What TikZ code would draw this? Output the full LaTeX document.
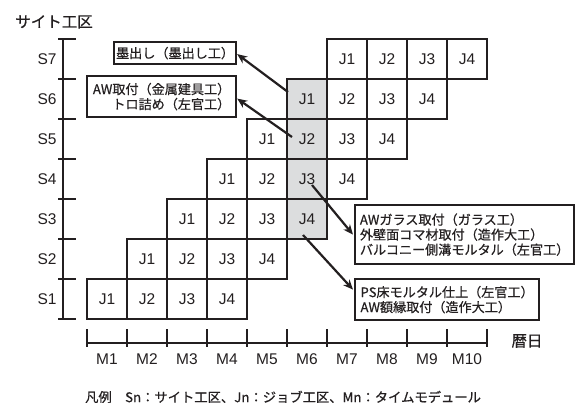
\documentclass[tikz,border=0pt]{standalone}
\usepackage{fontspec}
\setmainfont{Liberation Sans}
\newfontfamily\jp[FakeBold=0.6]{Noto Sans CJK JP}
\usetikzlibrary{arrows.meta}
\definecolor{ink}{HTML}{231F20}
\definecolor{shade}{HTML}{DCDDDE}
\begin{document}
\begin{tikzpicture}[x=1pt,y=-1pt,
  cell/.style={draw=ink,line width=2pt,minimum width=40pt,minimum height=40pt,inner sep=0pt,
    font=\fontsize{15.5}{18}\selectfont,text=ink},
  shaded/.style={cell,fill=shade},
  lab/.style={font=\fontsize{15.5}{18}\selectfont,text=ink,inner sep=0pt},
  jlab/.style={font=\jp\fontsize{15.5}{18}\selectfont,text=ink,inner sep=0pt},
  box/.style={draw=ink,line width=2.2pt,text=ink,inner sep=0pt,
    font=\jp\fontsize{13.1}{15}\selectfont},
  axis/.style={draw=ink,line width=2pt},
  arr/.style={draw=ink,line width=2.2pt,-{Stealth[length=10pt,width=8.5pt]}},
]
\useasboundingbox (0,0) rectangle (580,403);
% title
\node[jlab,anchor=center] (ytitle) at (54,22) {サイト工区};
% vertical axis
\coordinate (ytop) at (63,39);
\coordinate (ybot) at (63,319);
\draw[axis] (ytop) -- (ybot);
\foreach \i in {0,...,7}{
  \draw[axis] (58,{319-40*\i}) -- (76,{319-40*\i});
}
\foreach \s in {1,...,7}{
  \node[lab] (S\s) at (47,{299-40*(\s-1)}) {S\s};
}
% cells
\foreach \s in {1,...,7}{
  \foreach \j in {1,...,4}{
    \pgfmathtruncatemacro{\m}{\s+\j-1}
    \ifnum\m=6
      \node[shaded] (c\s-\j) at ({107+40*(\m-1)},{299-40*(\s-1)}) {J\j};
    \else
      \node[cell] (c\s-\j) at ({107+40*(\m-1)},{299-40*(\s-1)}) {J\j};
    \fi
  }
}
% horizontal axis
\coordinate (xl) at (87,343);
\coordinate (xr) at (487,343);
\draw[axis] (xl) -- (xr);
\foreach \i in {0,...,10}{
  \draw[axis] ({87+40*\i},329) -- ({87+40*\i},347);
}
\foreach \m in {1,...,10}{
  \node[lab] (M\m) at ({107+40*(\m-1)},359) {M\m};
}
\node[jlab] (xtitle) at (527,341) {暦日};
% callout boxes
\node[box,anchor=north west,align=right,minimum width=122pt,minimum height=22pt] (b1) at (113,41) {墨出し（墨出し工）};
\node[box,anchor=north west,align=right,minimum width=149pt,minimum height=41pt] (b2) at (86,75) {AW取付（金属建具工）\\トロ詰め（左官工）};
\node[box,anchor=north west,align=left,minimum width=219pt,minimum height=59pt] (b3) at (354,204) {AWガラス取付（ガラス工）\\外壁面コマ材取付（造作大工）\\バルコニー側溝モルタル（左官工）};
\node[box,anchor=north west,align=left,minimum width=184pt,minimum height=41pt] (b4) at (354,278) {PS床モルタル仕上（左官工）\\AW額縁取付（造作大工）};
% arrows
\coordinate (a1) at (288,92);
\coordinate (a2) at (292,137);
\coordinate (a3) at (312,185);
\coordinate (a4) at (303,235);
\draw[arr] (a1) -- ([yshift=-1pt]b1.east);
\draw[arr] (a2) -- ([yshift=-2pt]b2.east);
\draw[arr] (a3) -- ([xshift=-1pt]b3.west);
\draw[arr] (a4) -- ([xshift=-1pt,yshift=10pt]b4.west);
% legend
\node[anchor=west,font=\jp\fontsize{13.3}{15}\selectfont,text=ink,inner sep=0pt] (legend) at (85,397) {凡例　Sn：サイト工区、Jn：ジョブ工区、Mn：タイムモデュール};
\end{tikzpicture}
\end{document}
